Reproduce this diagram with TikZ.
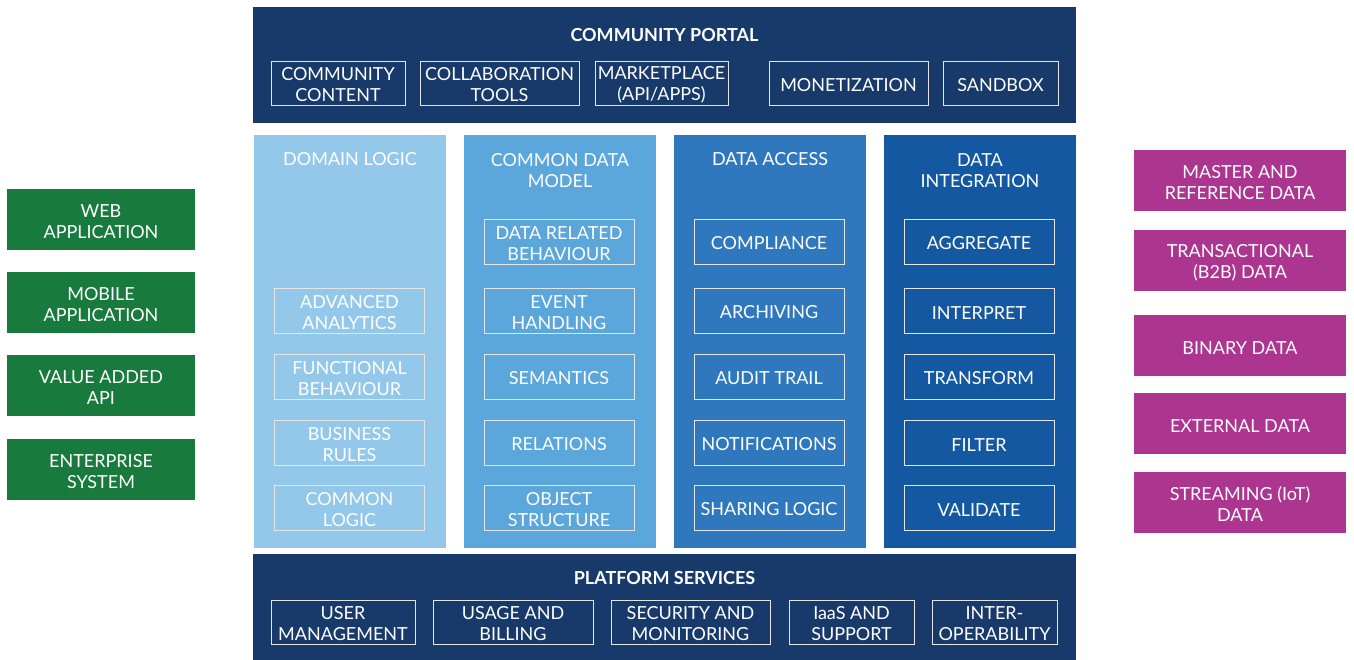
\documentclass[tikz,border=0pt]{standalone}
\usepackage{fontspec}
\setmainfont{Lato}
\usepackage{tikz}
\usetikzlibrary{shapes}
\definecolor{navy}{HTML}{183A6B}
\definecolor{colA}{HTML}{93C8EB}
\definecolor{colB}{HTML}{5BA6DB}
\definecolor{colC}{HTML}{2F78BD}
\definecolor{colD}{HTML}{1358A0}
\definecolor{appgreen}{HTML}{187A3C}
\definecolor{datapink}{HTML}{AC3590}
\tikzstyle{panel}=[rectangle,inner sep=0pt,draw=none]
\tikzstyle{title}=[text=white,align=center,font=\fontsize{18}{21}\selectfont]
\tikzstyle{item}=[rectangle,draw=white!80!gray,line width=1pt,text=white,align=center,inner sep=0pt,minimum height=44pt,font=\fontsize{18}{21}\selectfont,execute at begin node={\rule{0pt}{17pt}}]
\tikzstyle{colbox}=[item,minimum width=150pt,minimum height=45pt]
\tikzstyle{side}=[rectangle,text=white,align=center,inner sep=0pt,minimum height=61pt,font=\fontsize{18}{21}\selectfont,execute at begin node={\rule{0pt}{17pt}}]
\tikzstyle{twoline}=[execute at begin node={\rule{0pt}{38pt}}]

\begin{document}
\begin{tikzpicture}[x=1pt,y=-1pt]
      \useasboundingbox (0,0) rectangle (1354,659);
      % community portal
      \node[panel,fill=navy,minimum width=823pt,minimum height=116pt] (portal) at (664.5,65) {};
      \node[title,font=\fontsize{18}{21}\selectfont\bfseries] (portaltitle) at (664.5,35) {COMMUNITY PORTAL};
      \node[item,twoline,minimum width=134pt] (content) at (338,83) {COMMUNITY\\CONTENT};
      \node[item,twoline,minimum width=159pt] (collab) at (499.5,83) {COLLABORATION\\TOOLS};
      \node[item,twoline,minimum width=133pt] (market) at (661.5,83) {MARKETPLACE\\(API/APPS)};
      \node[item,minimum width=159pt] (money) at (848.5,83) {MONETIZATION};
      \node[item,minimum width=115pt] (sandbox) at (1000.5,83) {SANDBOX};
      % columns
      \node[panel,fill=colA,minimum width=192pt,minimum height=413pt] (domain) at (350,341.5) {};
      \node[panel,fill=colB,minimum width=192pt,minimum height=413pt] (model) at (560,341.5) {};
      \node[panel,fill=colC,minimum width=192pt,minimum height=413pt] (access) at (770,341.5) {};
      \node[panel,fill=colD,minimum width=192pt,minimum height=413pt] (integr) at (980,341.5) {};
      \node[title] (domaintitle) at (350,159.5) {DOMAIN LOGIC};
      \node[title] (modeltitle) at (560,170.5) {COMMON DATA\\MODEL};
      \node[title] (accesstitle) at (770,159.5) {DATA ACCESS};
      \node[title] (integrtitle) at (980,170.5) {DATA\\INTEGRATION};
      % domain logic
      \node[colbox,twoline] (analytics) at (349.5,310.5) {ADVANCED\\ANALYTICS};
      \node[colbox,twoline] (functional) at (349.5,376.5) {FUNCTIONAL\\BEHAVIOUR};
      \node[colbox,twoline] (rules) at (349.5,442.5) {BUSINESS\\RULES};
      \node[colbox,twoline] (commonlogic) at (349.5,507.5) {COMMON\\LOGIC};
      % common data model
      \node[colbox,twoline] (related) at (559,241.5) {DATA RELATED\\BEHAVIOUR};
      \node[colbox,twoline] (event) at (559,310.5) {EVENT\\HANDLING};
      \node[colbox] (semantics) at (559,376.5) {SEMANTICS};
      \node[colbox] (relations) at (559,442.5) {RELATIONS};
      \node[colbox,twoline] (objstruct) at (559,507.5) {OBJECT\\STRUCTURE};
      % data access
      \node[colbox] (compliance) at (769,241.5) {COMPLIANCE};
      \node[colbox] (archiving) at (769,310.5) {ARCHIVING};
      \node[colbox] (audit) at (769,376.5) {AUDIT TRAIL};
      \node[colbox] (notif) at (769,442.5) {NOTIFICATIONS};
      \node[colbox] (sharing) at (769,507.5) {SHARING LOGIC};
      % data integration
      \node[colbox] (aggregate) at (979,241.5) {AGGREGATE};
      \node[colbox] (interpret) at (979,310.5) {INTERPRET};
      \node[colbox] (transform) at (979,376.5) {TRANSFORM};
      \node[colbox] (filter) at (979,442.5) {FILTER};
      \node[colbox] (validate) at (979,507.5) {VALIDATE};
      % platform services
      \node[panel,fill=navy,minimum width=823pt,minimum height=106pt] (platform) at (664.5,607) {};
      \node[title,font=\fontsize{18}{21}\selectfont\bfseries] (platformtitle) at (664.5,578) {PLATFORM SERVICES};
      \node[item,twoline,minimum width=144pt] (users) at (343,622) {USER\\MANAGEMENT};
      \node[item,twoline,minimum width=160pt] (billing) at (513,622) {USAGE AND\\BILLING};
      \node[item,twoline,minimum width=159pt] (security) at (690.5,622) {SECURITY AND\\MONITORING};
      \node[item,twoline,minimum width=125pt] (iaas) at (851.5,622) {IaaS AND\\SUPPORT};
      \node[item,twoline,minimum width=125pt] (interop) at (994.5,622) {INTER-\\OPERABILITY};
      % applications
      \node[side,twoline,fill=appgreen,minimum width=188pt] (webapp) at (101,219.5) {WEB\\APPLICATION};
      \node[side,twoline,fill=appgreen,minimum width=188pt] (mobapp) at (101,302.5) {MOBILE\\APPLICATION};
      \node[side,twoline,fill=appgreen,minimum width=188pt] (vaapi) at (101,385.5) {VALUE ADDED\\API};
      \node[side,twoline,fill=appgreen,minimum width=188pt] (entsys) at (101,469.5) {ENTERPRISE\\SYSTEM};
      % data sources
      \node[side,twoline,fill=datapink,minimum width=212pt] (master) at (1240,180.5) {MASTER AND\\REFERENCE DATA};
      \node[side,twoline,fill=datapink,minimum width=212pt] (trans) at (1240,260.5) {TRANSACTIONAL\\(B2B) DATA};
      \node[side,fill=datapink,minimum width=212pt] (binary) at (1240,345.5) {BINARY DATA};
      \node[side,fill=datapink,minimum width=212pt] (external) at (1240,423.5) {EXTERNAL DATA};
      \node[side,twoline,fill=datapink,minimum width=212pt] (stream) at (1240,502.5) {STREAMING (IoT)\\DATA};
    \end{tikzpicture}
\end{document}
